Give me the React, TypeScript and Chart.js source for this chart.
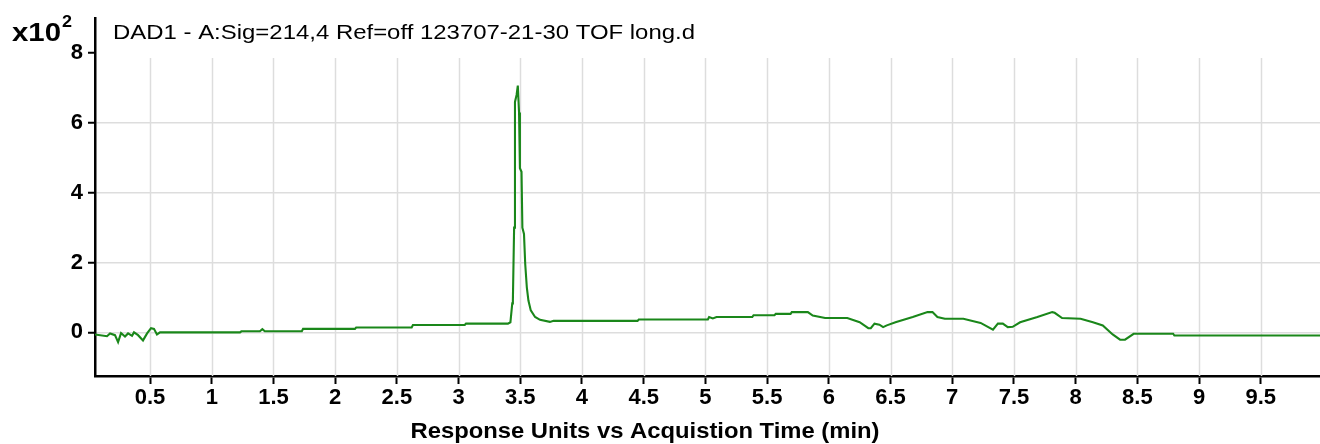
import React, { useEffect, useRef } from "react";
import { Chart, registerables } from "chart.js";

Chart.register(...registerables);

// Acquisition time (min)
const timeMin: number[] = [
  0.054, 0.151, 0.176, 0.216, 0.241, 0.265, 0.297, 0.322, 0.354, 0.37, 0.403, 0.443, 0.476, 0.508, 0.532, 0.556, 0.581,
  1.229, 1.24, 1.39, 1.41, 1.43, 1.73, 1.74, 2.16, 2.17, 2.62, 2.63, 3.05, 3.06, 3.4, 3.42,
  3.435, 3.44, 3.45, 3.457, 3.47, 3.48, 3.49, 3.497, 3.51, 3.517, 3.53, 3.54, 3.553, 3.566, 3.585, 3.62, 3.66, 3.74, 3.77,
  4.45, 4.46, 5.02, 5.03, 5.06, 5.09, 5.38, 5.39, 5.56, 5.57, 5.69, 5.7, 5.83, 5.87, 5.97, 6.15, 6.25, 6.32, 6.34, 6.37,
  6.41, 6.44, 6.47, 6.54, 6.68, 6.8, 6.84, 6.88, 6.94, 7.09, 7.23, 7.33, 7.37, 7.41, 7.45, 7.49, 7.55, 7.69, 7.81, 7.83,
  7.89, 8.04, 8.14, 8.22, 8.3, 8.36, 8.4, 8.47, 8.79, 8.8, 9.98,
];

// Response (x10^2)
const response: number[] = [
  -0.06, -0.11, -0.03, -0.08, -0.28, -0.02, -0.12, -0.03, -0.1, 0.0, -0.08, -0.23, -0.03, 0.12, 0.1, -0.06, 0.0,
  0.0, 0.03, 0.03, 0.09, 0.03, 0.03, 0.1, 0.1, 0.14, 0.14, 0.21, 0.21, 0.25, 0.25, 0.29,
  0.83, 0.91, 3.0, 6.6, 6.8, 7.07, 6.3, 4.7, 4.6, 3.0, 2.82, 1.96, 1.29, 0.91, 0.63, 0.44, 0.36, 0.3, 0.33,
  0.33, 0.37, 0.37, 0.44, 0.4, 0.44, 0.44, 0.49, 0.49, 0.53, 0.53, 0.58, 0.58, 0.48, 0.41, 0.41, 0.29, 0.12, 0.12, 0.25,
  0.22, 0.15, 0.2, 0.29, 0.44, 0.58, 0.58, 0.44, 0.39, 0.39, 0.27, 0.08, 0.25, 0.25, 0.15, 0.16, 0.29, 0.44, 0.58, 0.56,
  0.41, 0.39, 0.29, 0.2, -0.06, -0.21, -0.21, -0.04, -0.04, -0.09, -0.09,
];

const xTicks: number[] = [0.5, 1, 1.5, 2, 2.5, 3, 3.5, 4, 4.5, 5, 5.5, 6, 6.5, 7, 7.5, 8, 8.5, 9, 9.5];
const yTicks: number[] = [0, 2, 4, 6, 8];

const chartTitle = "DAD1 - A:Sig=214,4 Ref=off 123707-21-30 TOF long.d";
const xAxisTitle = "Response Units vs Acquistion Time (min)";
const yMultiplier = "x10";
const yExponent = "2";

const FONT = '"Liberation Sans", Arial, Helvetica, sans-serif';

function drawFitted(
  ctx: CanvasRenderingContext2D,
  text: string,
  x: number,
  y: number,
  font: string,
  targetWidth: number,
  align: "left" | "center"
) {
  ctx.save();
  ctx.font = font;
  ctx.textAlign = "left";
  ctx.textBaseline = "alphabetic";
  const w = ctx.measureText(text).width;
  const sx = targetWidth / w;
  const left = align === "center" ? x - targetWidth / 2 : x;
  ctx.translate(left, y);
  ctx.scale(sx, 1);
  ctx.fillText(text, 0, 0);
  ctx.restore();
}

export default function App() {
  const canvasRef = useRef<HTMLCanvasElement | null>(null);

  useEffect(() => {
    document.body.style.margin = "0";
    const canvas = canvasRef.current;
    if (!canvas) return;

    const points = timeMin.map((t, i) => ({ x: t, y: response[i] }));

    const vGrid = {
      id: "vGrid",
      beforeDatasetsDraw(chart: any) {
        const { ctx, chartArea, scales } = chart;
        const xs = scales.x;
        const ys = scales.y;
        const top = ys.getPixelForValue(7.86);
        ctx.save();
        ctx.strokeStyle = "#dddddd";
        ctx.lineWidth = 1.5;
        for (const v of xTicks) {
          const px = Math.round(xs.getPixelForValue(v)) + 0.5;
          ctx.beginPath();
          ctx.moveTo(px, top);
          ctx.lineTo(px, chartArea.bottom);
          ctx.stroke();
        }
        ctx.restore();
      },
    };

    const texts = {
      id: "texts",
      afterDraw(chart: any) {
        const { ctx } = chart;
        ctx.save();
        ctx.fillStyle = "#000";
        drawFitted(ctx, yMultiplier, 12, 41, `bold 26px ${FONT}`, 49, "left");
        drawFitted(ctx, yExponent, 62, 27, `bold 17px ${FONT}`, 10, "left");
        drawFitted(ctx, chartTitle, 113, 39, `21px ${FONT}`, 582, "left");
        drawFitted(ctx, xAxisTitle, 645, 438, `bold 22px ${FONT}`, 469, "center");
        ctx.restore();
      },
    };

    const chart = new Chart(canvas, {
      type: "line",
      data: {
        datasets: [
          {
            data: points,
            borderColor: "#1a871a",
            borderWidth: 2.1,
            pointRadius: 0,
            tension: 0,
            fill: false,
          },
        ],
      },
      options: {
        animation: false,
        responsive: true,
        maintainAspectRatio: false,
        layout: { padding: { top: 16, left: 0, right: 0, bottom: 0 } },
        plugins: {
          legend: { display: false },
          tooltip: { enabled: false },
          title: { display: false },
        },
        scales: {
          x: {
            type: "linear",
            min: 0.054,
            max: 9.98,
            afterBuildTicks: (scale: any) => {
              scale.ticks = xTicks.map((v) => ({ value: v }));
            },
            afterFit: (scale: any) => {
              scale.height = 68;
            },
            ticks: {
              autoSkip: false,
              maxRotation: 0,
              padding: 1,
              color: "#000",
              font: { family: FONT, size: 22, weight: "bold" },
              callback: (v: any) => String(v),
            },
            grid: {
              drawOnChartArea: false,
              drawTicks: true,
              tickLength: 8,
              tickColor: "#000",
              tickWidth: 2,
            },
            border: { color: "#000", width: 2.5 },
          },
          y: {
            type: "linear",
            min: -1.25,
            max: 9.0,
            afterBuildTicks: (scale: any) => {
              scale.ticks = yTicks.map((v) => ({ value: v }));
            },
            afterFit: (scale: any) => {
              scale.width = 95;
            },
            ticks: {
              padding: 5,
              color: "#000",
              font: { family: FONT, size: 22, weight: "bold" },
              callback: (v: any) => String(v),
            },
            grid: {
              color: (c: any) => (c.tick && c.tick.value === 8 ? "rgba(0,0,0,0)" : "#dddddd"),
              lineWidth: 1.5,
              drawTicks: true,
              tickLength: 7,
              tickColor: "#000",
              tickWidth: 2,
            },
            border: { color: "#000", width: 2.5 },
          },
        },
      },
      plugins: [vGrid, texts],
    });

    return () => {
      chart.destroy();
    };
  }, []);

  return (
    <div style={{ position: "fixed", left: 0, top: 0, width: 1320, height: 444, background: "#fff" }}>
      <canvas ref={canvasRef} />
    </div>
  );
}
